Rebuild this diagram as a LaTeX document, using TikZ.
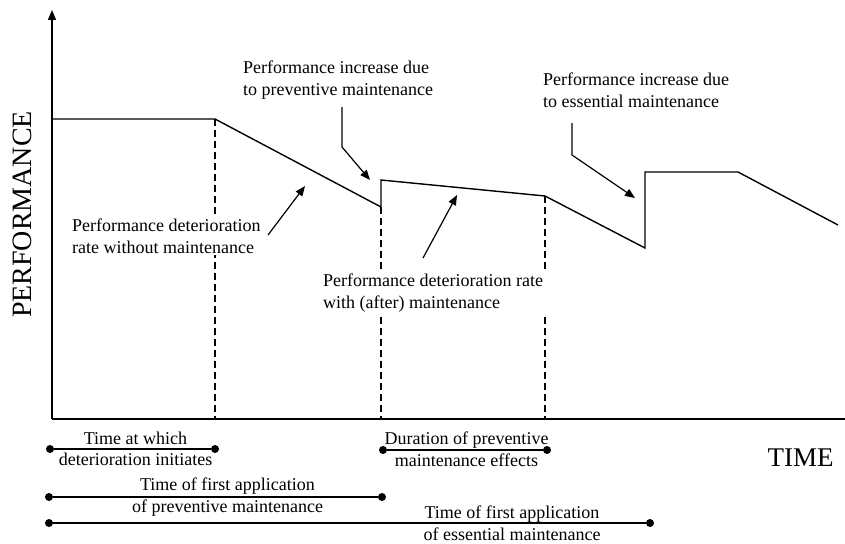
\documentclass[tikz,border=0pt]{standalone}
\usepackage{fontspec}
\setmainfont{Liberation Serif}
\usetikzlibrary{arrows.meta}
\begin{document}
\begin{tikzpicture}[x=1pt,y=-1pt,
  axis/.style={line width=1.4pt},
  curve/.style={line width=1.4pt, line join=miter},
  guide/.style={line width=1.2pt, dash pattern=on 7pt off 4pt},
  pointer/.style={line width=1.2pt, -{Triangle[length=10pt,width=8pt]}},
  lbl/.style={font=\fontsize{18}{21.5}\selectfont, fill=white, inner xsep=3pt, inner ysep=2pt, align=left, anchor=west},
  spanlbl/.style={font=\fontsize{18}{21.5}\selectfont, inner sep=0pt, align=center},
  span/.style={line width=1.4pt},
  endpt/.style={circle, fill=black, inner sep=0pt, minimum size=8pt},
]
\useasboundingbox (0,0) rectangle (845,543);

% axes
\coordinate (O) at (52,419);
\coordinate (ytop) at (52,10);
\coordinate (xend) at (845,419);
\draw[axis, -{Triangle[length=10pt,width=8pt]}] (O) -- (ytop);
\draw[axis] (O) -- (xend);

\node[rotate=90, font=\fontsize{28}{30}\selectfont, inner sep=0pt] (ylab) at (22,214.5) {PERFORMANCE};
\node[font=\fontsize{27}{30}\selectfont, inner sep=0pt] (xlab) at (800.5,458) {TIME};

% performance history
\coordinate (p0) at (52,119);
\coordinate (p1) at (215,119);
\coordinate (p2) at (381,207);
\coordinate (p3) at (381,180);
\coordinate (p4) at (545,196);
\coordinate (p5) at (645,248);
\coordinate (p6) at (645,172);
\coordinate (p7) at (738,172);
\coordinate (p8) at (838,225);
\draw[curve] (p0) -- (p1) -- (p2) -- (p3) -- (p4) -- (p5) -- (p6) -- (p7) -- (p8);

% event markers
\draw[guide] (p1) -- (p1 |- O);
\draw[guide] (p2) -- (p2 |- O);
\draw[guide] (p4) -- (p4 |- O);

% annotations (white boxes mask the guides behind them)
\node[lbl] (Lprev) at (240,80) {Performance increase due\\to preventive maintenance};
\node[lbl] (Less) at (540,90) {Performance increase due\\to essential maintenance};
\node[lbl] (Lwithout) at (69,236) {Performance deterioration\\rate without maintenance};
\node[lbl] (Lwith) at (320,293) {Performance deterioration rate\\with (after) maintenance};

\coordinate (a1s) at (268,235);
\coordinate (a1e) at (305,186);
\draw[pointer] (a1s) -- (a1e);

\coordinate (a2s) at (342,107);
\coordinate (a2m) at (342,147);
\coordinate (a2e) at (370,180);
\draw[pointer] (a2s) -- (a2m) -- (a2e);

\coordinate (a3s) at (572,123);
\coordinate (a3m) at (572,155);
\coordinate (a3e) at (635,198);
\draw[pointer] (a3s) -- (a3m) -- (a3e);

\coordinate (a4s) at (423,258);
\coordinate (a4e) at (457,195);
\draw[pointer] (a4s) -- (a4e);

% time spans
\node[endpt] (b1l) at (50,449) {};
\node[endpt] (b1r) at (215,449) {};
\draw[span] (b1l) -- (b1r);
\node[spanlbl] (s1) at (135.5,449) {Time at which\\deterioration initiates};

\node[endpt] (b4l) at (383,450) {};
\node[endpt] (b4r) at (547,450) {};
\draw[span] (b4l) -- (b4r);
\node[spanlbl] (s4) at (466.5,449) {Duration of preventive\\maintenance effects};

\node[endpt] (b2l) at (49,497) {};
\node[endpt] (b2r) at (382,497) {};
\draw[span] (b2l) -- (b2r);
\node[spanlbl] (s2) at (227.5,497) {Time of first application\\of preventive maintenance};

\node[endpt] (b3l) at (49,523) {};
\node[endpt] (b3r) at (650,523) {};
\draw[span] (b3l) -- (b3r);
\node[spanlbl] (s3) at (512,523) {Time of first application\\of essential maintenance};
\end{tikzpicture}
\end{document}
